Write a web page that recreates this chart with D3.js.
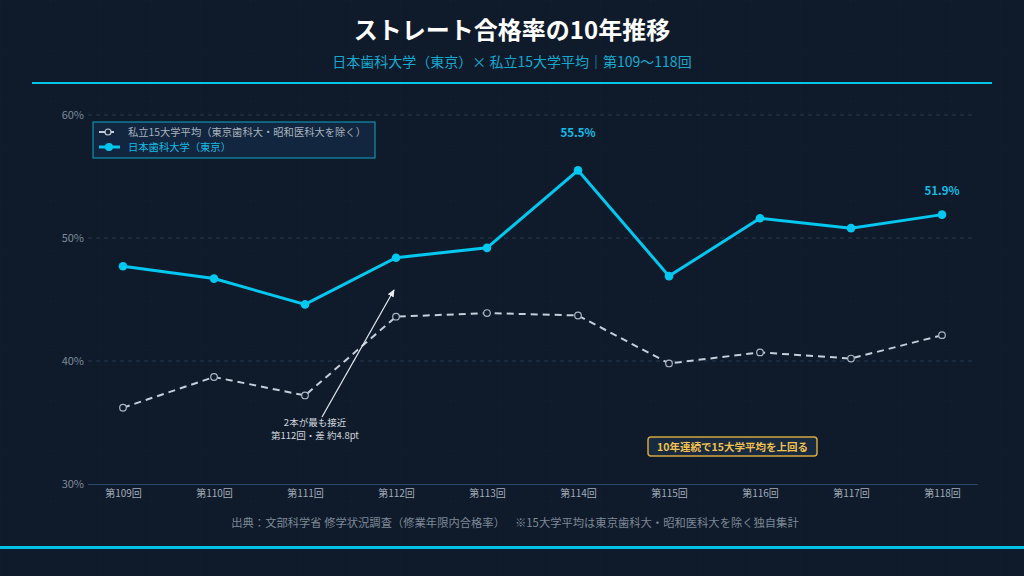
<!DOCTYPE html>
<html>
<head>
<meta charset="utf-8">
<script src="https://cdn.jsdelivr.net/npm/d3@7"></script>
<style>
  html, body { margin: 0; padding: 0; background: #0f1b2b; }
  svg { display: block; font-family: "Noto Sans CJK JP", "Noto Sans", sans-serif; }
</style>
</head>
<body>
<script>
const width = 1024;
const height = 576;

// data
const rounds = ["第109回", "第110回", "第111回", "第112回", "第113回", "第114回", "第115回", "第116回", "第117回", "第118回"];
const nihon = [47.7, 46.7, 44.6, 48.4, 49.2, 55.5, 46.9, 51.6, 50.8, 51.9];
const private15 = [36.2, 38.7, 37.2, 43.6, 43.9, 43.7, 39.8, 40.7, 40.2, 42.1];
const yTicks = [30, 40, 50, 60];

const svg = d3.select("body").append("svg")
    .attr("width", width)
    .attr("height", height);

// background + faint grid pattern
const defs = svg.append("defs");
const pat = defs.append("pattern")
    .attr("id", "bg")
    .attr("width", 50).attr("height", 50)
    .attr("patternUnits", "userSpaceOnUse");
pat.append("path")
    .attr("d", "M50 0 L0 0 L0 50")
    .attr("fill", "none")
    .attr("stroke", "#162538")
    .attr("stroke-width", 1)
    .attr("stroke-dasharray", "1,3");
defs.append("marker")
    .attr("id", "arrow")
    .attr("viewBox", "0 0 10 10")
    .attr("refX", 8).attr("refY", 5)
    .attr("markerWidth", 7).attr("markerHeight", 7)
    .attr("orient", "auto")
    .append("path")
    .attr("d", "M0,1 L9,5 L0,9 z")
    .attr("fill", "#e8ecf0");

svg.append("rect").attr("width", width).attr("height", height).attr("fill", "#0f1b2b");
svg.append("rect").attr("width", width).attr("height", height).attr("fill", "url(#bg)");

// header
svg.append("text")
    .attr("x", width / 2).attr("y", 39)
    .attr("text-anchor", "middle")
    .attr("fill", "#ffffff")
    .attr("font-size", 24)
    .attr("font-weight", "bold")
    .text("ストレート合格率の10年推移");

svg.append("text")
    .attr("x", width / 2).attr("y", 67)
    .attr("text-anchor", "middle")
    .attr("fill", "#13a9cf")
    .attr("font-size", 14)
    .text("日本歯科大学（東京）× 私立15大学平均｜第109〜118回");

svg.append("line")
    .attr("x1", 32).attr("x2", 992)
    .attr("y1", 83).attr("y2", 83)
    .attr("stroke", "#00c3e8").attr("stroke-width", 2);

svg.append("line")
    .attr("x1", 0).attr("x2", width)
    .attr("y1", 547.5).attr("y2", 547.5)
    .attr("stroke", "#00c3e8").attr("stroke-width", 3);

// scales
const x = d3.scalePoint()
    .domain(rounds)
    .range([123, 942]);

const y = d3.scaleLinear()
    .domain([30, 60])
    .range([484, 115]);

// grid
svg.append("g")
    .selectAll("line")
    .data(yTicks.slice(1))
    .join("line")
    .attr("x1", 88).attr("x2", 975)
    .attr("y1", d => y(d)).attr("y2", d => y(d))
    .attr("stroke", "#283a50")
    .attr("stroke-dasharray", "4,4");

// y axis
const yAxis = svg.append("g")
    .attr("transform", "translate(88,0)")
    .call(d3.axisLeft(y).tickValues(yTicks).tickFormat(d => d + "%").tickSize(0).tickPadding(4));
yAxis.select(".domain").remove();
yAxis.selectAll("text")
    .attr("fill", "#7d8a9a")
    .attr("font-size", 11)
    .attr("font-family", "Noto Sans CJK JP, sans-serif");

// x axis
const xAxis = svg.append("g")
    .attr("transform", "translate(0,484)")
    .call(d3.axisBottom(x).tickSize(0).tickPadding(6));
xAxis.select(".domain").remove();
xAxis.selectAll("text")
    .attr("fill", "#a3acb8")
    .attr("font-size", 10)
    .attr("font-family", "Noto Sans CJK JP, sans-serif");
svg.append("line")
    .attr("x1", 88).attr("x2", 978)
    .attr("y1", 484.5).attr("y2", 484.5)
    .attr("stroke", "#29456a").attr("stroke-width", 1);

// lines
const line = d3.line()
    .x((d, i) => x(rounds[i]))
    .y(d => y(d));

svg.append("path")
    .datum(private15)
    .attr("d", line)
    .attr("fill", "none")
    .attr("stroke", "#c5ceda")
    .attr("stroke-width", 2)
    .attr("stroke-dasharray", "7,5");

svg.append("g")
    .selectAll("circle")
    .data(private15)
    .join("circle")
    .attr("cx", (d, i) => x(rounds[i]))
    .attr("cy", d => y(d))
    .attr("r", 3.3)
    .attr("fill", "#0f1b2b")
    .attr("stroke", "#aab4c2")
    .attr("stroke-width", 1.2);

svg.append("path")
    .datum(nihon)
    .attr("d", line)
    .attr("fill", "none")
    .attr("stroke", "#00c8f0")
    .attr("stroke-width", 3);

svg.append("g")
    .selectAll("circle")
    .data(nihon)
    .join("circle")
    .attr("cx", (d, i) => x(rounds[i]))
    .attr("cy", d => y(d))
    .attr("r", 4.3)
    .attr("fill", "#00c8f0");

// value labels
[5, 9].forEach(i => {
    svg.append("text")
        .attr("x", x(rounds[i]))
        .attr("y", y(nihon[i]) - (i === 5 ? 33 : 20))
        .attr("text-anchor", "middle")
        .attr("fill", "#12bde6")
        .attr("font-size", 11.5)
        .attr("font-weight", "bold")
        .text(nihon[i] + "%");
});

// legend
const lg = svg.append("g").attr("transform", "translate(93,122)");
lg.append("rect")
    .attr("width", 282).attr("height", 36)
    .attr("fill", "#12263f")
    .attr("stroke", "#0fa6c8")
    .attr("stroke-width", 1);
lg.append("line")
    .attr("x1", 6).attr("x2", 24).attr("y1", 10).attr("y2", 10)
    .attr("stroke", "#c5ceda").attr("stroke-width", 2).attr("stroke-dasharray", "6,3");
lg.append("circle")
    .attr("cx", 15).attr("cy", 10).attr("r", 3)
    .attr("fill", "#12263f").attr("stroke", "#c5ceda").attr("stroke-width", 1.2);
lg.append("text")
    .attr("x", 35).attr("y", 13.5)
    .attr("fill", "#a8b2be")
    .attr("font-size", 10.3)
    .text("私立15大学平均（東京歯科大・昭和医科大を除く）");
lg.append("line")
    .attr("x1", 6).attr("x2", 27).attr("y1", 25).attr("y2", 25)
    .attr("stroke", "#00c8f0").attr("stroke-width", 3);
lg.append("circle")
    .attr("cx", 16).attr("cy", 25).attr("r", 4)
    .attr("fill", "#00c8f0");
lg.append("text")
    .attr("x", 35).attr("y", 28.5)
    .attr("fill", "#12bde6")
    .attr("font-size", 10.3)
    .text("日本歯科大学（東京）");

// closest annotation
svg.append("line")
    .attr("x1", 322).attr("y1", 417)
    .attr("x2", 394).attr("y2", 290)
    .attr("stroke", "#e8ecf0")
    .attr("stroke-width", 1.2)
    .attr("marker-end", "url(#arrow)");
svg.append("text")
    .attr("x", 315).attr("y", 426)
    .attr("text-anchor", "middle")
    .attr("fill", "#d0d6de")
    .attr("font-size", 9.5)
    .text("2本が最も接近");
svg.append("text")
    .attr("x", 315).attr("y", 439)
    .attr("text-anchor", "middle")
    .attr("fill", "#d0d6de")
    .attr("font-size", 9.5)
    .text("第112回・差 約4.8pt");

// badge
const bg = svg.append("g").attr("transform", "translate(648,437)");
bg.append("rect")
    .attr("width", 169).attr("height", 19)
    .attr("rx", 3)
    .attr("fill", "#182a40")
    .attr("stroke", "#d4a640")
    .attr("stroke-width", 1.5);
bg.append("text")
    .attr("x", 84.5).attr("y", 13.5)
    .attr("text-anchor", "middle")
    .attr("fill", "#f2c14e")
    .attr("font-size", 10.5)
    .attr("font-weight", "bold")
    .text("10年連続で15大学平均を上回る");

// footer
svg.append("text")
    .attr("x", 515).attr("y", 527)
    .attr("text-anchor", "middle")
    .attr("fill", "#7d8896")
    .attr("font-size", 11.3)
    .attr("xml:space", "preserve")
    .text("出典：文部科学省 修学状況調査（修業年限内合格率）    ※15大学平均は東京歯科大・昭和医科大を除く独自集計");
</script>
</body>
</html>
